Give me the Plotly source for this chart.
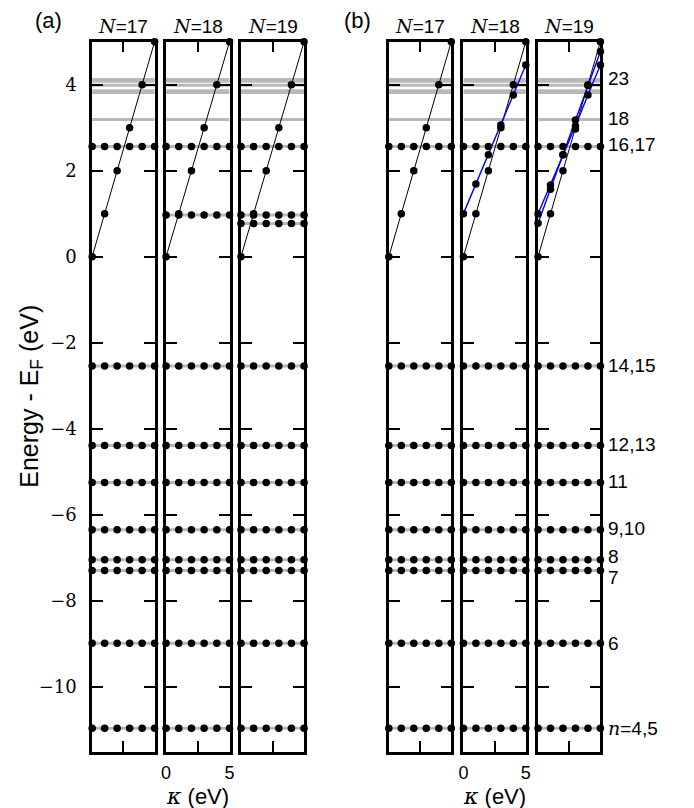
import plotly.graph_objects as go

# ---------------- data ----------------
kappa = [0, 1, 2, 3, 4, 5]
level_energies = [-10.97, -8.99, -7.30, -7.05, -6.35, -5.25, -4.39, -2.54, 2.56]
gray_only_energies = [3.19, 3.82, 3.86, 3.99, 4.08, 4.12]
a18_extra_levels = [0.97]
a19_extra_levels = [0.97, 0.77]
diag_black = [0, 1, 2, 3, 4, 5]
b18_blue = [1.00, 1.69, 2.37, 3.06, 3.76, 4.46]
b19_blue_a = [1.00, 1.67, 2.37, 3.04, 3.76, 4.46]
b19_blue_b = [0.78, 1.57, 2.37, 3.18, 3.98, 4.77]
b19_black = [0, 1, 2, 2.97, 4, 5]
n_labels = ["17", "18", "19"]
right_labels = ["n=4,5", "6", "7", "8", "9,10", "11", "12,13", "14,15", "16,17", "18", "23"]
right_label_y = [-10.97, -8.99, -7.45, -6.98, -6.33, -5.23, -4.36, -2.52, 2.60, 3.22, 4.15]
ytick_vals = [-10, -8, -6, -4, -2, 0, 2, 4]
ytick_text = ["\u221210", "\u22128", "\u22126", "\u22124", "\u22122", "0", "2", "4"]
xtick_vals = [0, 2.5, 5]
xtick_text = ["0", "", "5"]

# ---------------- layout geometry ----------------
W, H = 694, 808
OFF = 8  # page body margin compensation
left_px = [88.3, 163.3, 239.3, 389.3, 465.0, 540.7]
right_px = [151.7, 227.7, 303.3, 452.7, 528.3, 604.0]
top_px, bot_px = 41.7, 752.0
yrange = [-11.52, 5.0]


def px_x(v):
    return (v - OFF) / W


def px_y(v):
    return 1 - (v - OFF) / H


SANS = "Liberation Sans, Arial, sans-serif"
SERIF = "DejaVu Serif, serif"
GRAY = "#b8b8b8"

fig = go.Figure()


def ax_names(i):
    s = "" if i == 0 else str(i + 1)
    return "x" + s, "y" + s


def add_gray_lines(i, energies):
    xa, ya = ax_names(i)
    xs, ys = [], []
    for e in energies:
        xs += [kappa[0], kappa[-1], None]
        ys += [e, e, None]
    fig.add_trace(go.Scatter(x=xs, y=ys, mode="lines", xaxis=xa, yaxis=ya,
                             line=dict(color=GRAY, width=3), hoverinfo="skip",
                             showlegend=False, cliponaxis=False))


def add_level_dots(i, energies):
    xa, ya = ax_names(i)
    xs, ys = [], []
    for e in energies:
        xs += kappa
        ys += [e] * len(kappa)
    fig.add_trace(go.Scatter(x=xs, y=ys, mode="markers", xaxis=xa, yaxis=ya,
                             marker=dict(color="black", size=7.5), showlegend=False,
                             cliponaxis=False))


def add_branch(i, vals, color, width):
    xa, ya = ax_names(i)
    fig.add_trace(go.Scatter(x=kappa, y=vals, mode="lines", xaxis=xa, yaxis=ya,
                             line=dict(color=color, width=width), showlegend=False,
                             cliponaxis=False))


def add_branch_dots(i, vals):
    xa, ya = ax_names(i)
    fig.add_trace(go.Scatter(x=kappa, y=vals, mode="markers", xaxis=xa, yaxis=ya,
                             marker=dict(color="black", size=7.5), showlegend=False,
                             cliponaxis=False))


for i in range(6):
    add_gray_lines(i, level_energies + gray_only_energies)

# panel (a)
add_gray_lines(1, a18_extra_levels)
add_gray_lines(2, a19_extra_levels)
for i in range(3):
    add_branch(i, diag_black, "black", 1)
for i in range(3):
    add_level_dots(i, level_energies)
    add_branch_dots(i, diag_black)
add_level_dots(1, a18_extra_levels)
add_level_dots(2, a19_extra_levels)

# panel (b)
add_branch(3, diag_black, "black", 1)
add_branch(4, diag_black, "black", 1)
add_branch(4, b18_blue, "#0000ff", 1.4)
add_branch(5, b19_black, "black", 1)
add_branch(5, b19_blue_a, "#0000ff", 1.4)
add_branch(5, b19_blue_b, "#0000ff", 1.4)
for i in range(3, 6):
    add_level_dots(i, level_energies)
add_branch_dots(3, diag_black)
add_branch_dots(4, diag_black)
add_branch_dots(4, b18_blue)
add_branch_dots(5, b19_black)
add_branch_dots(5, b19_blue_a)
add_branch_dots(5, b19_blue_b)

layout = dict(width=W, height=H, autosize=False,
              margin=dict(l=0, r=0, t=0, b=0),
              paper_bgcolor="white", plot_bgcolor="white",
              showlegend=False)

for i in range(6):
    s = "" if i == 0 else str(i + 1)
    layout["xaxis" + s] = dict(
        domain=[px_x(left_px[i]), px_x(right_px[i])], range=[0, 5],
        anchor="y" + s, showgrid=False, zeroline=False,
        showline=True, linecolor="black", linewidth=2.5, mirror="ticks",
        ticks="inside", ticklen=11, tickwidth=1.5, tickcolor="black",
        tickvals=xtick_vals, ticktext=xtick_text,
        showticklabels=(i in (1, 4)),
        tickfont=dict(family=SANS, size=18, color="black"),
        ticklabelstandoff=3,
    )
    layout["yaxis" + s] = dict(
        domain=[px_y(bot_px), px_y(top_px)], range=yrange,
        anchor="x" + s, showgrid=False, zeroline=False,
        showline=True, linecolor="black", linewidth=2.5, mirror="ticks",
        ticks="inside", ticklen=11, tickwidth=1.5, tickcolor="black",
        tickvals=ytick_vals, ticktext=ytick_text,
        showticklabels=(i == 0),
        tickfont=dict(family=SERIF, size=18, color="black"),
        ticklabelstandoff=9,
    )

fig.update_layout(**layout)

annotations = []
# subplot titles
for i in range(6):
    xa, ya = ax_names(i)
    annotations.append(dict(
        xref=xa + " domain", yref=ya + " domain", x=0.5, y=1, yanchor="bottom",
        xanchor="center", yshift=3, showarrow=False,
        text="<span style='font-family:DejaVu Serif;font-style:italic'>N</span>=" + n_labels[i % 3],
        font=dict(family=SANS, size=19, color="black")))

# panel labels
annotations.append(dict(xref="paper", yref="paper", x=px_x(44), y=px_y(20),
                        xanchor="center", yanchor="middle", showarrow=False,
                        text="(a)", font=dict(family=SANS, size=22, color="black")))
annotations.append(dict(xref="paper", yref="paper", x=px_x(358), y=px_y(20),
                        xanchor="center", yanchor="middle", showarrow=False,
                        text="(b)", font=dict(family=SANS, size=22, color="black")))

# y axis title
annotations.append(dict(xref="paper", yref="paper", x=px_x(26), y=px_y(396),
                        xanchor="center", yanchor="middle", showarrow=False, textangle=-90,
                        text="Energy - E<sub>F</sub> (eV)",
                        font=dict(family=SANS, size=25, color="black")))

# x axis titles
for i in (1, 4):
    xa, ya = ax_names(i)
    annotations.append(dict(xref=xa + " domain", yref="paper", x=0.5, y=px_y(796),
                            xanchor="center", yanchor="middle", showarrow=False,
                            borderpad=0,
                            text="<span style='font-family:DejaVu Serif;font-style:italic'>\u03ba</span> (eV)",
                            font=dict(family=SANS, size=22, color="black")))

# right-hand level labels for panel (b)
for lab, yv in zip(right_labels, right_label_y):
    if lab.startswith("n="):
        txt = "<span style='font-family:DejaVu Serif;font-style:italic'>n</span>=" + lab[2:]
    else:
        txt = lab
    annotations.append(dict(xref="x6 domain", yref="y6", x=1, y=yv, xshift=6,
                            xanchor="left", yanchor="middle", showarrow=False,
                            text=txt, font=dict(family=SANS, size=19, color="black")))

fig.update_layout(annotations=annotations)

fig.write_html("out.html")
